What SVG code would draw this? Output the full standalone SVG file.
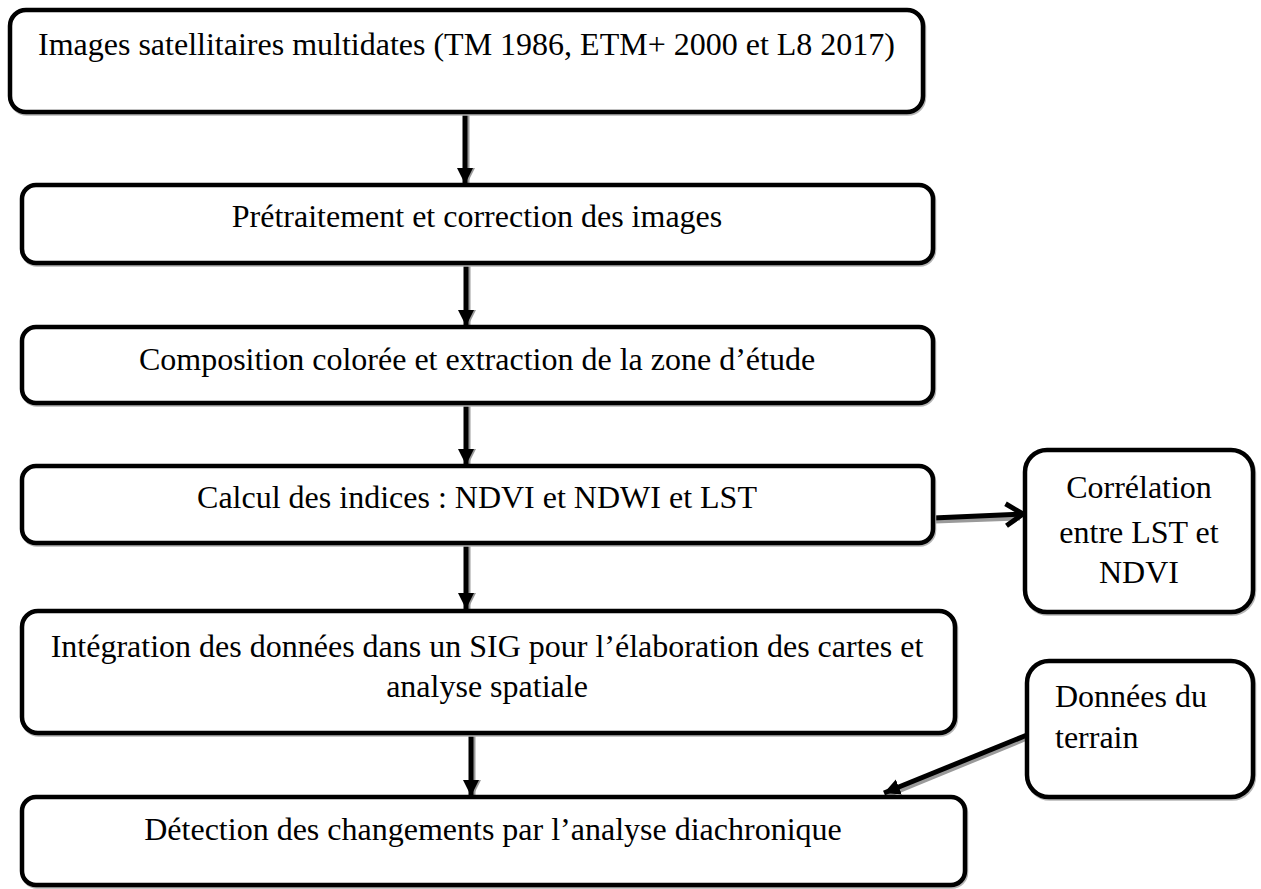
<svg xmlns="http://www.w3.org/2000/svg" width="1261" height="889" viewBox="0 0 1261 889">
<style>
.box{fill:#fff;stroke:#000;stroke-width:4.5}
.bsh{fill:none;stroke:#b5b5b5;stroke-width:4.5}
.t{font-family:"Liberation Serif","Times New Roman",serif;font-size:32px;fill:#000}
.m{text-anchor:middle}
.ln{stroke:#000;stroke-width:5;fill:none}
.sh{stroke:#9a9a9a;stroke-width:5;fill:none}
</style>
<defs>
<marker id="tri" markerUnits="userSpaceOnUse" markerWidth="18" markerHeight="18" refX="16" refY="8" orient="auto">
<path d="M0,0 L16,8 L0,16 Z" fill="#000"/>
</marker>
<marker id="trish" markerUnits="userSpaceOnUse" markerWidth="18" markerHeight="18" refX="16" refY="8" orient="auto">
<path d="M0,0 L16,8 L0,16 Z" fill="#9a9a9a"/>
</marker>
<marker id="chev" markerUnits="userSpaceOnUse" markerWidth="24" markerHeight="28" refX="20" refY="14" orient="auto">
<path d="M3,3 L20,14 L3,25" fill="none" stroke="#000" stroke-width="5" stroke-linejoin="miter"/>
</marker>
</defs>
<g id="connectors">
<line class="sh" x1="467" y1="114" x2="467" y2="184" marker-end="url(#trish)"/>
<line class="ln" x1="465" y1="112" x2="465" y2="184" marker-end="url(#tri)"/>
<line class="sh" x1="468" y1="265" x2="468" y2="326" marker-end="url(#trish)"/>
<line class="ln" x1="466" y1="263" x2="466" y2="326" marker-end="url(#tri)"/>
<line class="sh" x1="468" y1="405" x2="468" y2="465" marker-end="url(#trish)"/>
<line class="ln" x1="466" y1="403" x2="466" y2="465" marker-end="url(#tri)"/>
<line class="sh" x1="468" y1="545" x2="468" y2="609" marker-end="url(#trish)"/>
<line class="ln" x1="466" y1="543" x2="466" y2="609" marker-end="url(#tri)"/>
<line class="sh" x1="473" y1="735" x2="473" y2="796" marker-end="url(#trish)"/>
<line class="ln" x1="471" y1="733" x2="471" y2="796" marker-end="url(#tri)"/>
<line class="sh" x1="935" y1="521" x2="1020" y2="518"/>
<line class="ln" x1="933" y1="518" x2="1023" y2="514" marker-end="url(#chev)"/>
<line class="sh" x1="1027" y1="738" x2="886" y2="796"/>
<line class="ln" x1="1027" y1="735" x2="884" y2="793" marker-end="url(#tri)"/>
</g>
<g id="n1"><rect class="bsh" x="11" y="11.5" width="913" height="102" rx="16"/><rect class="box" x="10" y="10" width="913" height="102" rx="16"/>
<text class="t" x="38" y="55">Images satellitaires multidates (TM 1986, ETM+ 2000 et L8 2017)</text></g>
<g id="n2"><rect class="bsh" x="23" y="186.5" width="911" height="78" rx="14"/><rect class="box" x="22" y="185" width="911" height="78" rx="14"/>
<text class="t m" x="477" y="227">Prétraitement et correction des images</text></g>
<g id="n3"><rect class="bsh" x="23" y="328.5" width="911" height="76" rx="14"/><rect class="box" x="22" y="327" width="911" height="76" rx="14"/>
<text class="t m" x="477" y="370">Composition colorée et extraction de la zone d’étude</text></g>
<g id="n4"><rect class="bsh" x="23" y="467.5" width="911" height="77" rx="14"/><rect class="box" x="22" y="466" width="911" height="77" rx="14"/>
<text class="t m" x="477" y="508">Calcul des indices : NDVI et NDWI et LST</text></g>
<g id="n5"><rect class="bsh" x="23" y="612.5" width="933" height="122" rx="16"/><rect class="box" x="22" y="611" width="933" height="122" rx="16"/>
<text class="t m" x="487" y="657">Intégration des données dans un SIG pour l’élaboration des cartes et</text>
<text class="t m" x="487" y="697">analyse spatiale</text></g>
<g id="n6"><rect class="bsh" x="23" y="798.5" width="943" height="88" rx="14"/><rect class="box" x="22" y="797" width="943" height="88" rx="14"/>
<text class="t m" x="493" y="840">Détection des changements par l’analyse diachronique</text></g>
<g id="n7"><rect class="bsh" x="1026" y="451.5" width="228" height="162" rx="22"/><rect class="box" x="1025" y="450" width="228" height="162" rx="22"/>
<text class="t m" x="1139" y="498">Corrélation</text>
<text class="t m" x="1139" y="543">entre LST et</text>
<text class="t m" x="1139" y="583">NDVI</text></g>
<g id="n8"><rect class="bsh" x="1028" y="662.5" width="226" height="136" rx="22"/><rect class="box" x="1027" y="661" width="226" height="136" rx="22"/>
<text class="t" x="1055" y="707">Données du</text>
<text class="t" x="1055" y="748">terrain</text></g>
</svg>
